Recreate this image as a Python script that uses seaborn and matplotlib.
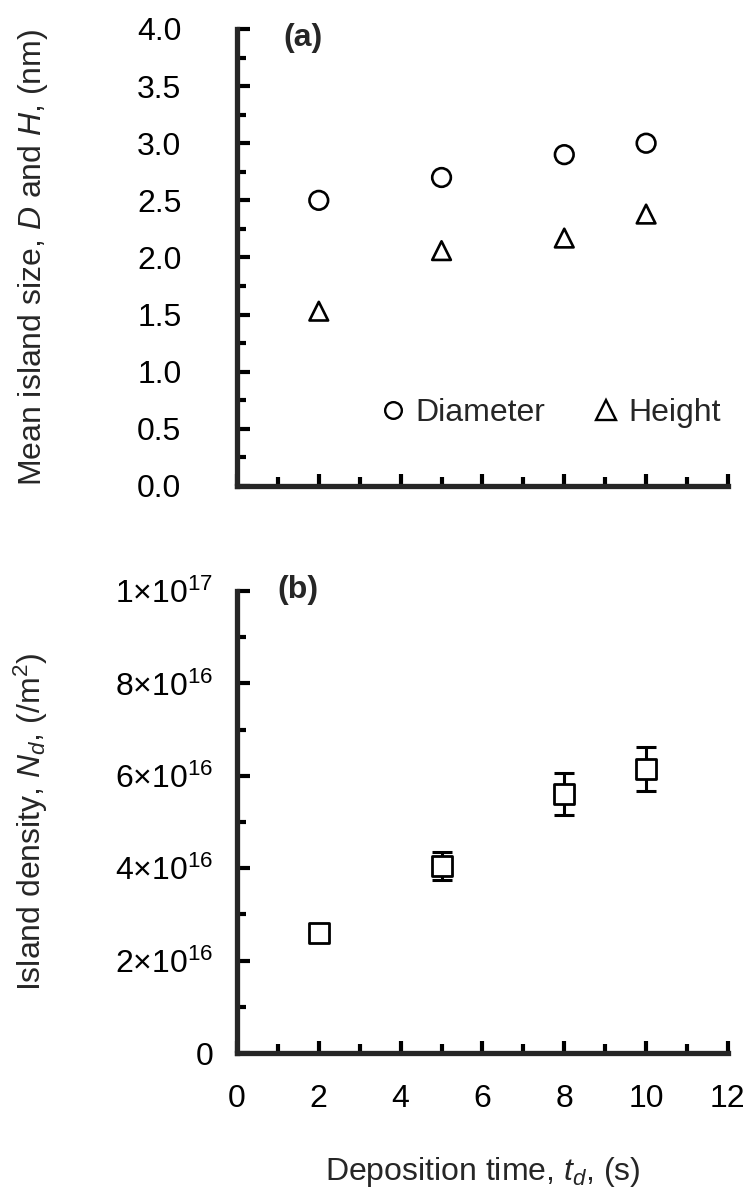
import numpy as np
import pandas as pd
import matplotlib
matplotlib.use("Agg")
import matplotlib.pyplot as plt
import seaborn as sns
from matplotlib.lines import Line2D
from matplotlib.ticker import MultipleLocator, FixedLocator, FixedFormatter

# values
time_s = [2, 5, 8, 10]
diameter_nm = [2.5, 2.7, 2.9, 3.0]
height_nm = [1.53, 2.06, 2.17, 2.38]
density = [2.6e16, 4.05e16, 5.6e16, 6.15e16]
density_err = [0.1e16, 0.3e16, 0.45e16, 0.47e16]

size_ticks = [0.0, 0.5, 1.0, 1.5, 2.0, 2.5, 3.0, 3.5, 4.0]
density_ticks = [0, 2e16, 4e16, 6e16, 8e16, 1e17]
density_labels = ["0", "2×10$^{16}$", "4×10$^{16}$", "6×10$^{16}$", "8×10$^{16}$", "1×10$^{17}$"]
time_ticks = [0, 2, 4, 6, 8, 10, 12]

sns.set_theme(style="ticks")
plt.rcParams["font.family"] = ["Liberation Sans", "DejaVu Sans"]
plt.rcParams["mathtext.fontset"] = "custom"
plt.rcParams["mathtext.rm"] = "Liberation Sans"
plt.rcParams["mathtext.it"] = "Liberation Sans:italic"
plt.rcParams["mathtext.bf"] = "Liberation Sans:bold"

FS = 23

fig = plt.figure(figsize=(7.53, 11.97), dpi=100)
ax1 = fig.add_axes([0.3147, 0.594, 0.652, 0.3818])
ax2 = fig.add_axes([0.3147, 0.1203, 0.652, 0.3860])

# (a) island size
size_df = pd.DataFrame({
    "time": time_s * 2,
    "size": diameter_nm + height_nm,
    "series": ["Diameter"] * 4 + ["Height"] * 4,
})
sns.scatterplot(data=size_df, x="time", y="size", style="series",
                markers={"Diameter": "o", "Height": "^"}, s=180,
                color="white", edgecolor="black", linewidth=1.9,
                legend=False, ax=ax1, zorder=3)

# legend symbols look like text glyphs in the original
handles = [
    Line2D([], [], ls="", marker="o", ms=12, mfc="white", mec="black", mew=1.7),
    Line2D([], [], ls="", marker="^", ms=14, mfc="white", mec="black", mew=1.7),
]
ax1.legend(handles, ["Diameter", "Height"], ncol=2, frameon=False, loc="center",
           bbox_to_anchor=(0.635, 0.16), fontsize=FS, handletextpad=0.2,
           columnspacing=1.4, handlelength=1.0)

ax1.set_xlim(0, 12)
ax1.set_ylim(0, 4)
ax1.yaxis.set_major_locator(FixedLocator(size_ticks))
ax1.yaxis.set_major_formatter(FixedFormatter([f"{v:.1f}" for v in size_ticks]))
ax1.yaxis.set_minor_locator(MultipleLocator(0.25))
ax1.set_ylabel("Mean island size, $D$ and $H$, (nm)", fontsize=FS)
ax1.set_xlabel("")
ax1.text(0.094, 0.98, "(a)", transform=ax1.transAxes, fontsize=FS, fontweight="bold",
         va="center", ha="left")

# (b) island density
dens_df = pd.DataFrame({"time": time_s, "density": density})
ax2.errorbar(time_s, density, yerr=density_err, fmt="none", ecolor="black",
             elinewidth=2.2, capsize=7, capthick=2.2, zorder=2)
sns.scatterplot(data=dens_df, x="time", y="density", marker="s", s=190,
                color="white", edgecolor="black", linewidth=2.0, ax=ax2, zorder=3)
ax2.set_xlim(0, 12)
ax2.set_ylim(0, 1e17)
ax2.yaxis.set_major_locator(FixedLocator(density_ticks))
ax2.yaxis.set_major_formatter(FixedFormatter(density_labels))
ax2.yaxis.set_minor_locator(MultipleLocator(1e16))
ax2.set_ylabel("Island density, $N_d$, (/m$^2$)", fontsize=FS)
ax2.set_xlabel("Deposition time, $t_d$, (s)", fontsize=FS)
ax2.text(0.083, 1.002, "(b)", transform=ax2.transAxes, fontsize=FS, fontweight="bold",
         va="center", ha="left")

for ax in (ax1, ax2):
    ax.xaxis.set_major_locator(FixedLocator(time_ticks))
    ax.xaxis.set_minor_locator(MultipleLocator(1))
    sns.despine(ax=ax)
    for side in ("left", "bottom"):
        ax.spines[side].set_linewidth(3.8)
    ax.tick_params(which="major", direction="in", length=9, width=3.0,
                   labelsize=FS, color="black", labelcolor="black")
    ax.tick_params(which="minor", direction="in", length=6.5, width=3.0, color="black")
    ax.yaxis.set_label_coords(-0.38, 0.5)

ax1.tick_params(axis="x", which="both", labelbottom=False)
ax1.tick_params(axis="y", which="major", pad=40)
ax2.tick_params(axis="y", which="major", pad=17)
ax2.tick_params(axis="x", which="major", pad=22)
ax2.xaxis.set_label_coords(0.5, -0.221)
ax2.xaxis.label.set_va("top")

fig.savefig("out.png", dpi=100)
